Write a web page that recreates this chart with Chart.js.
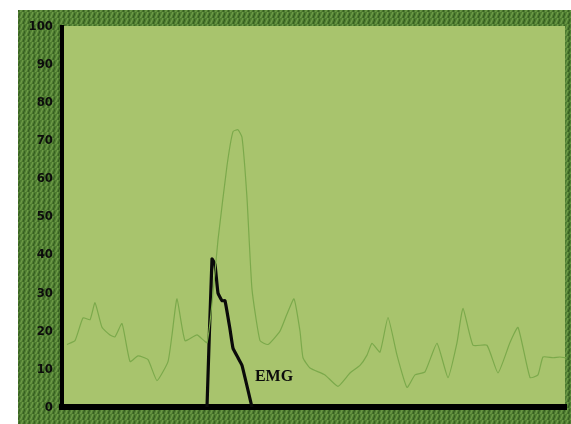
<!DOCTYPE html>
<html><head><meta charset="utf-8">
<script src="https://cdn.jsdelivr.net/npm/chart.js@4/dist/chart.umd.min.js"></script>
<style>html,body{margin:0;padding:0;background:#fff;}#wrap{width:571px;height:424px;position:relative}</style>
</head><body><div id="wrap"><canvas id="c" width="571" height="424"></canvas></div>
<script>
// time axis (arbitrary units) and values (% of max)
const greenTime = [5,13,21,28,33,40,48,53,60,68,76,86,95,106,110,115,123,135,145,151,156,165,171,176,180,185,190,198,206,218,225,232,238,241,248,263,276,288,298,305,310,318,326,335,345,353,363,375,386,395,401,411,425,436,448,456,468,476,481,491,498,504];
const greenValues = [16.5,17.5,23.5,23,27.5,21,19,18.5,22,12,13.5,12.5,7,12,19,28.5,17.5,19,17,30,44,63.5,72.5,73,71,55,31,17.5,16.5,20,24.5,28.5,20,13,10.3,8.5,5.5,9,11,13.7,16.8,14.5,23.6,13.7,5.2,8.5,9.3,16.8,7.8,17,26,16.3,16.3,9,17,21,7.8,8.5,13.2,13,13.2,13];
const emgTime = [145,150,153,156,160,163,168,171,176,180,190];
const emgValues = [0,39,37.5,30,28,28,20.5,15.5,13,11,0];
const yTickValues = [0,10,20,30,40,50,60,70,80,90,100];
const emgLabel = 'EMG';
const emgLabelAt = {x: 212, y: 8};

const pat = document.createElement('canvas');
pat.width = 5; pat.height = 6;
const pc = pat.getContext('2d');
pc.fillStyle = '#4d7b30'; pc.fillRect(0,0,5,6);
pc.strokeStyle = '#6e9c48'; pc.lineWidth = 1.3;
pc.beginPath(); pc.moveTo(0.5,6); pc.lineTo(3,0); pc.stroke();
pc.strokeStyle = '#335a1e'; pc.lineWidth = 1;
pc.beginPath(); pc.moveTo(3,6); pc.lineTo(5,1); pc.stroke();

const bgPlugin = {
  id: 'bg',
  beforeDraw(chart) {
    const ctx = chart.ctx, ca = chart.chartArea;
    ctx.save();
    ctx.fillStyle = '#fff'; ctx.fillRect(0,0,chart.width,chart.height);
    ctx.fillStyle = ctx.createPattern(pat,'repeat'); ctx.fillRect(18,10,chart.width-18,chart.height-10);
    ctx.fillStyle = '#a8c46d'; ctx.fillRect(ca.left, ca.top-1, ca.right-1-ca.left, ca.bottom-ca.top+1);
    ctx.restore();
  },
  afterDatasetsDraw(chart) {
    const ctx = chart.ctx;
    const x = chart.scales.x.getPixelForValue(emgLabelAt.x);
    const y = chart.scales.y.getPixelForValue(emgLabelAt.y);
    ctx.save();
    ctx.fillStyle = '#0c0c0c';
    ctx.font = 'bold 16px "Liberation Serif"';
    ctx.textAlign = 'center'; ctx.textBaseline = 'middle';
    ctx.fillText(emgLabel, x, y);
    ctx.restore();
  }
};

new Chart(document.getElementById('c'), {
  type: 'line',
  data: {
    datasets: [
      { data: greenTime.map((t,i)=>({x:t,y:greenValues[i]})), borderColor:'#7ba94b', borderWidth:1.2, pointRadius:0, tension:0.15, fill:false },
      { data: emgTime.map((t,i)=>({x:t,y:emgValues[i]})), borderColor:'#0a0a0a', borderWidth:3.2, pointRadius:0, tension:0.1, fill:false }
    ]
  },
  options: {
    responsive: false,
    devicePixelRatio: 1,
    animation: false,
    events: [],
    layout: { padding: { left: 18, top: 27, right: 5, bottom: 11 } },
    plugins: { legend: { display: false }, tooltip: { enabled: false } },
    scales: {
      x: {
        type: 'linear', min: 0, max: 504,
        grid: { display: false },
        ticks: { display: false },
        border: { display: true, color: '#000', width: 6 },
        afterFit(s) { s.height = 0; }
      },
      y: {
        min: 0, max: 100,
        afterBuildTicks(s) { s.ticks = yTickValues.map(v=>({value:v})); },
        ticks: { color: '#0c0c0c', padding: 9, font: { family: '"DejaVu Sans Condensed", "DejaVu Sans"', weight: 'bold', size: 13 } },
        grid: { display: false, drawTicks: false },
        border: { display: true, color: '#000', width: 4 },
        afterFit(s) { s.width = 44; }
      }
    }
  },
  plugins: [bgPlugin]
});
</script>
</body></html>
